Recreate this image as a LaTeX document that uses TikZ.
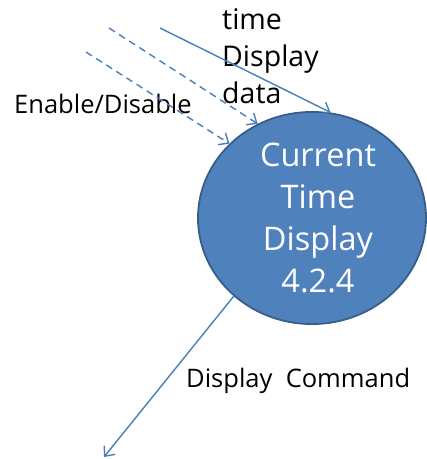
\documentclass[tikz,border=0pt]{standalone}
\usepackage{fontspec}
\setmainfont{Open Sans}
\usepackage{tikz}
\usetikzlibrary{arrows.meta,shapes.geometric}
\definecolor{ProcAzul}{HTML}{4F81BD}
\definecolor{ProcBorde}{HTML}{385D8A}
\definecolor{FlechaAzul}{HTML}{4A7EBB}
\tikzset{
  proceso/.style = {draw=ProcBorde, line width=1.8pt, ellipse, fill=ProcAzul,
                    text=white, align=center, inner sep=0pt,
                    font=\fontsize{32.5}{42}\selectfont},
  flecha/.style  = {-{Straight Barb[length=8pt,width=14pt]}, draw=FlechaAzul,
                    line width=1.4pt},
  flechad/.style = {flecha, dash pattern=on 7pt off 5pt},
  lbl/.style     = {inner sep=0pt, font=\fontsize{25.5}{31}\selectfont},
  lblg/.style    = {inner sep=0pt, align=left, font=\fontsize{28.5}{37}\selectfont},
}
\begin{document}
\begin{tikzpicture}[x=1pt,y=-1pt]
  \useasboundingbox (0,0) rectangle (427,459);
  \node[proceso, minimum width=228pt, minimum height=210pt] (ctd) at (312,218)
    {\hspace*{12pt}Current\\\hspace*{12pt}Time\\\hspace*{12pt}Display\\\hspace*{12pt}4.2.4};
  \coordinate (in1) at (160,28);
  \coordinate (in2) at (109,28);
  \coordinate (in3) at (86,52);
  \coordinate (out1) at (104,457);
  \node[lblg, anchor=north west] (tdd) at (222,8) {time\\Display\\data};
  \node[lbl, anchor=base west] (ed) at (14,113) {Enable/Disable};
  \node[lbl, anchor=base west] (dc) at (186,387) {Display\ \ Command};
  \draw[flecha] (in1) -- (ctd.80);
  \draw[flechad] (in2) -- (ctd.120);
  \draw[flechad] (in3) -- (ctd.138);
  \draw[flecha] (ctd.225) -- (out1);
\end{tikzpicture}
\end{document}
